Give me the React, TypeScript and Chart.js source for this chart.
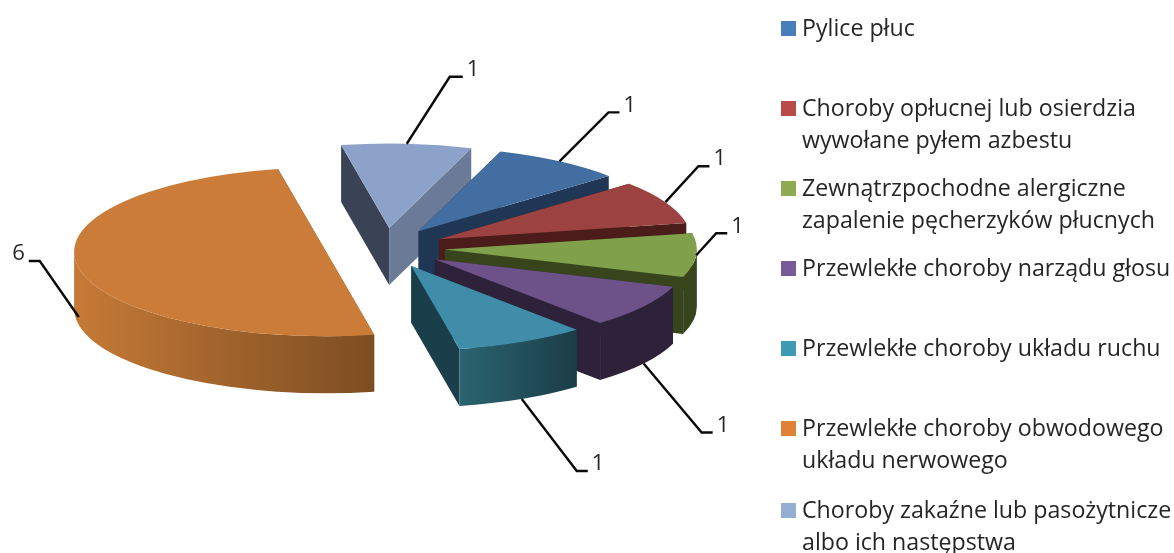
import React, { useEffect, useRef } from "react";
import { Chart, registerables } from "chart.js";

Chart.register(...registerables);

const categories: string[][] = [
  ["Pylice płuc"],
  ["Choroby opłucnej lub osierdzia", "wywołane pyłem azbestu"],
  ["Zewnątrzpochodne alergiczne", "zapalenie pęcherzyków płucnych"],
  ["Przewlekłe choroby narządu głosu"],
  ["Przewlekłe choroby układu ruchu"],
  ["Przewlekłe choroby obwodowego", "układu nerwowego"],
  ["Choroby zakaźne lub pasożytnicze", "albo ich następstwa"],
];
const values = [1, 1, 1, 1, 1, 6, 1];
const topColors = ["#426ea1", "#9c4240", "#80a04b", "#6c5288", "#3f8da8", "#cb7c38", "#8ca2c8"];
const legendColors = ["#4a7ebb", "#b84b48", "#8fab52", "#775a99", "#3f9bb5", "#dd8237", "#95add3"];
const startFaces = ["#1f3755", "#4b1c1a", "#38451c", "#2d2239", "#1b3f4a", "#7c4d22", "#3a4356"];
const endFaces = ["#1f3755", "#4b1c1a", "#38451c", "#2d2239", "#1b3f4a", "#7c4d22", "#6b7a96"];
const wallLeft = ["#1f3755", "#4b1c1a", "#38451c", "#2d2239", "#2a6470", "#c67a36", "#3a4356"];
const wallRight = ["#1f3755", "#4b1c1a", "#38451c", "#2d2239", "#1b3d48", "#7c4d22", "#6b7a96"];
const legendRowY = [29, 109, 189, 269, 349, 429, 511];
const leaderElbow = [[49, -49, 11], [33, -36, 11], [20, -22, 11], [58, 69, 11], [55, 72, 11], [-39, -56, -11], [43, -67, 13]];
const leaderDrop = [0, 0, 0, 1, 1, 0.86, 0];

const TILT = 0.335;
const DEPTH = 57;
const RADIUS = 252;
const EXPLODE = 60;
const FONT = '"Open Sans", sans-serif';
const TEXT = "#262626";

const arcInfo = (chart: any) =>
  chart.getDatasetMeta(0).data.map((el: any, i: number) => {
    const mid = (el.startAngle + el.endAngle) / 2;
    return {
      i,
      el,
      mid,
      R: el.outerRadius,
      cx: el.x + Math.cos(mid) * EXPLODE,
      cy: el.y + TILT * Math.sin(mid) * EXPLODE,
    };
  });

const tilt3d = {
  id: "tilt3d",
  // The dataset's arcs are drawn here, tilted and pulled apart, above their extruded sides.
  beforeDatasetDraw(chart: any) {
    const ctx = chart.ctx;
    const infos = arcInfo(chart).sort((a: any, b: any) => Math.sin(a.mid) - Math.sin(b.mid));
    infos.forEach(({ i, el, cx, cy, R }: any) => {
      const face = (angle: number, color: string) => {
        const px = cx + R * Math.cos(angle);
        const py = cy + TILT * R * Math.sin(angle);
        ctx.beginPath();
        ctx.moveTo(cx, cy);
        ctx.lineTo(px, py);
        ctx.lineTo(px, py + DEPTH);
        ctx.lineTo(cx, cy + DEPTH);
        ctx.closePath();
        ctx.fillStyle = color;
        ctx.fill();
      };
      face(el.startAngle, startFaces[i]);
      face(el.endAngle, endFaces[i]);
      const span = el.endAngle - el.startAngle;
      let a0 = el.startAngle % (2 * Math.PI);
      if (a0 < 0) a0 += 2 * Math.PI;
      const a1 = a0 + span;
      [[0, Math.PI], [2 * Math.PI, 3 * Math.PI]].forEach(([lo, hi]) => {
        const s = Math.max(a0, lo);
        const e = Math.min(a1, hi);
        if (e <= s) return;
        ctx.save();
        ctx.translate(cx, cy);
        ctx.scale(1, TILT);
        const g = ctx.createLinearGradient(R * Math.cos(e), 0, R * Math.cos(s), 0);
        g.addColorStop(0, wallLeft[i]);
        g.addColorStop(1, wallRight[i]);
        ctx.beginPath();
        ctx.arc(0, 0, R, s, e);
        ctx.arc(0, DEPTH / TILT, R, e, s, true);
        ctx.closePath();
        ctx.fillStyle = g;
        ctx.fill();
        ctx.restore();
      });
    });
    infos.forEach(({ el, mid }: any) => {
      ctx.save();
      ctx.translate(el.x, el.y);
      ctx.scale(1, TILT);
      ctx.translate(-el.x, -el.y);
      ctx.translate(Math.cos(mid) * EXPLODE, Math.sin(mid) * EXPLODE);
      el.draw(ctx, chart.chartArea);
      ctx.restore();
    });
    return false;
  },
  afterDraw(chart: any) {
    const ctx = chart.ctx;
    arcInfo(chart).forEach(({ i, mid, cx, cy, R }: any) => {
      const ax = cx + R * Math.cos(mid);
      const ay = cy + TILT * R * Math.sin(mid) + leaderDrop[i] * DEPTH;
      const [dx, dy, tail] = leaderElbow[i];
      ctx.beginPath();
      ctx.moveTo(ax, ay);
      ctx.lineTo(ax + dx, ay + dy);
      ctx.lineTo(ax + dx + tail, ay + dy);
      ctx.strokeStyle = "#0a0a0a";
      ctx.lineWidth = 2.4;
      ctx.stroke();
      ctx.font = `22px ${FONT}`;
      ctx.fillStyle = TEXT;
      ctx.textBaseline = "middle";
      ctx.textAlign = tail < 0 ? "right" : "left";
      ctx.fillText(String(values[i]), ax + dx + tail + (tail < 0 ? -4 : 4), ay + dy - 7);
    });
    categories.forEach((lines, i) => {
      const y = legendRowY[i];
      ctx.fillStyle = legendColors[i];
      ctx.fillRect(781, y - 8, 15, 15);
      ctx.font = `23.2px ${FONT}`;
      ctx.fillStyle = TEXT;
      ctx.textAlign = "left";
      ctx.textBaseline = "middle";
      lines.forEach((t, j) => ctx.fillText(t, 802, y + j * 32));
    });
  },
};

export default function App() {
  const ref = useRef<HTMLCanvasElement>(null);
  useEffect(() => {
    const chart = new Chart(ref.current!, {
      type: "pie",
      data: {
        labels: categories.map((c) => c.join(" ")),
        datasets: [
          {
            data: values,
            backgroundColor: topColors,
            borderWidth: 0,
            radius: RADIUS,
            clip: false,
          } as any,
        ],
      },
      options: {
        responsive: false,
        animation: false,
        rotation: 19,
        layout: { padding: { left: 0, top: 0, right: 404, bottom: 57 } },
        events: [],
        plugins: { legend: { display: false }, tooltip: { enabled: false }, title: { display: false } },
      },
      plugins: [tilt3d],
    } as any);
    return () => chart.destroy();
  }, []);
  return (
    <canvas
      ref={ref}
      width={1174}
      height={553}
      style={{ position: "absolute", left: 0, top: 0, width: 1174, height: 553, display: "block", filter: "blur(0.4px)" }}
    />
  );
}
